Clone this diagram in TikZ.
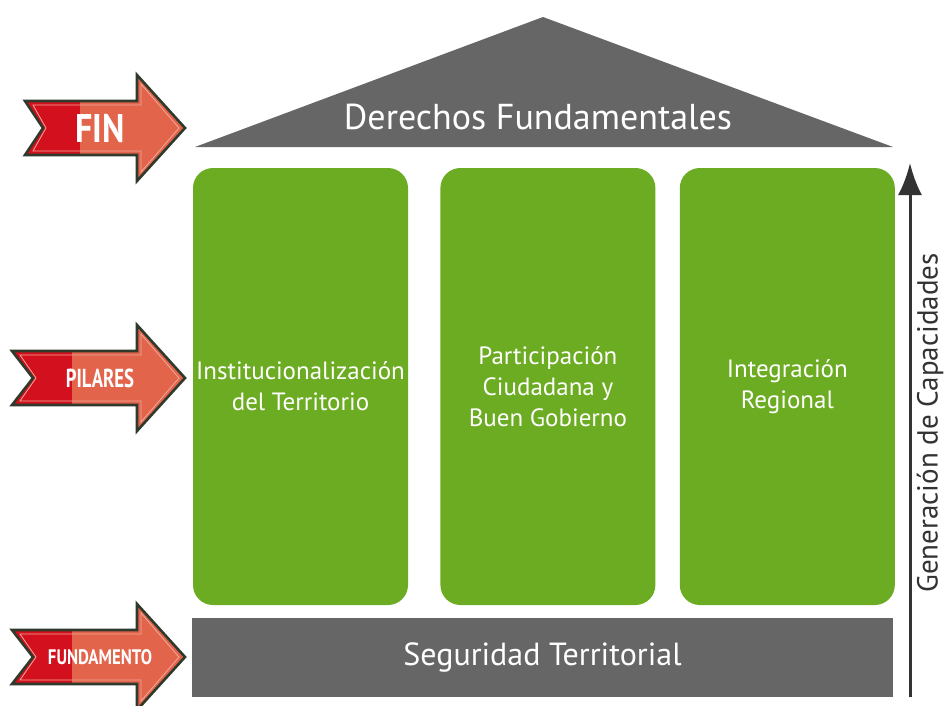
\documentclass[tikz,border=0pt]{standalone}
\usepackage{fontspec}
\setmainfont{PT Sans}
\usetikzlibrary{positioning, arrows.meta}
\definecolor{roofgrey}{HTML}{666666}
\definecolor{pillargreen}{HTML}{6CAC22}
\definecolor{arrowred}{HTML}{D3101D}
\definecolor{arrowsalmon}{HTML}{E2644B}
\definecolor{arrowrim}{HTML}{2F3A2C}
\definecolor{capdark}{HTML}{333333}

\begin{document}
\begin{tikzpicture}[x=1pt,y=-1pt,>=Latex,
    pillar/.style={fill=pillargreen, rounded corners=20pt, minimum width=215pt, minimum height=437pt, inner sep=0pt, text=white, align=center, font=\fontsize{25}{31}\selectfont},
    tag/.style={text=white, font=\bfseries}]
    \useasboundingbox[fill=white] (0,0) rectangle (949,705);

    % Roof
    \fill[roofgrey] (195,147) -- (543,17) -- (893,147) -- cycle;
    \node (roof) [text=white, font=\fontsize{36}{40}\selectfont] at (538,117) {Derechos Fundamentales};

    % Pillars
    \node (p1) [pillar] at (300.5,386.5) {Institucionalización\\del Territorio};
    \node (p2) [pillar, right=32pt of p1] {Participación\\Ciudadana y\\Buen Gobierno};
    \node (p3) [pillar, right=24pt of p2] {Integración\\Regional};

    % Base
    \node (base) [fill=roofgrey, minimum width=701pt, minimum height=79pt, text=white, font=\fontsize{32}{36}\selectfont] at (542.5,657.5) {Seguridad Territorial};

    % Side arrows
    \foreach \name/\yc/\tailx/\notchx/\split/\txt/\fsize/\squeeze in {fin/128/25/43/80/FIN/40/0.85, pil/378/12/33/72/PILARES/26/0.72, fun/657/12/33/72/FUNDAMENTO/21/0.8}{
        \draw[arrowrim, line width=2.6pt, fill=arrowsalmon,
            path picture={\fill[arrowred] (0,\yc-70) rectangle (\split,\yc+70);}]
            (\tailx,\yc-27) -- (137,\yc-27) -- (137,\yc-53) -- (185,\yc) -- (137,\yc+53)
            -- (137,\yc+27) -- (\tailx,\yc+27) -- (\notchx,\yc) -- cycle;
        \draw[white!45!arrowsalmon, line width=0.8pt]
            (\tailx+8,\yc-23) -- (141,\yc-23) -- (141,\yc-44) -- (179,\yc) -- (141,\yc+44)
            -- (141,\yc+23) -- (\tailx+8,\yc+23) -- (\notchx+3,\yc) -- cycle;
        \node (\name) [tag, xscale=\squeeze, font=\bfseries\fontsize{\fsize}{\fsize}\selectfont] at (100,\yc) {\txt};
    }

    % Capacities arrow
    \coordinate (capfoot) at (910,697);
    \coordinate (captip) at (910,163);
    \draw[capdark, line width=3pt, -{Latex[length=32pt,width=24pt]}] (capfoot) -- (captip);
    \node (caplabel) [rotate=90, text=capdark, font=\fontsize{29}{32}\selectfont] at (930,423) {Generación de Capacidades};

\end{tikzpicture}
\end{document}
